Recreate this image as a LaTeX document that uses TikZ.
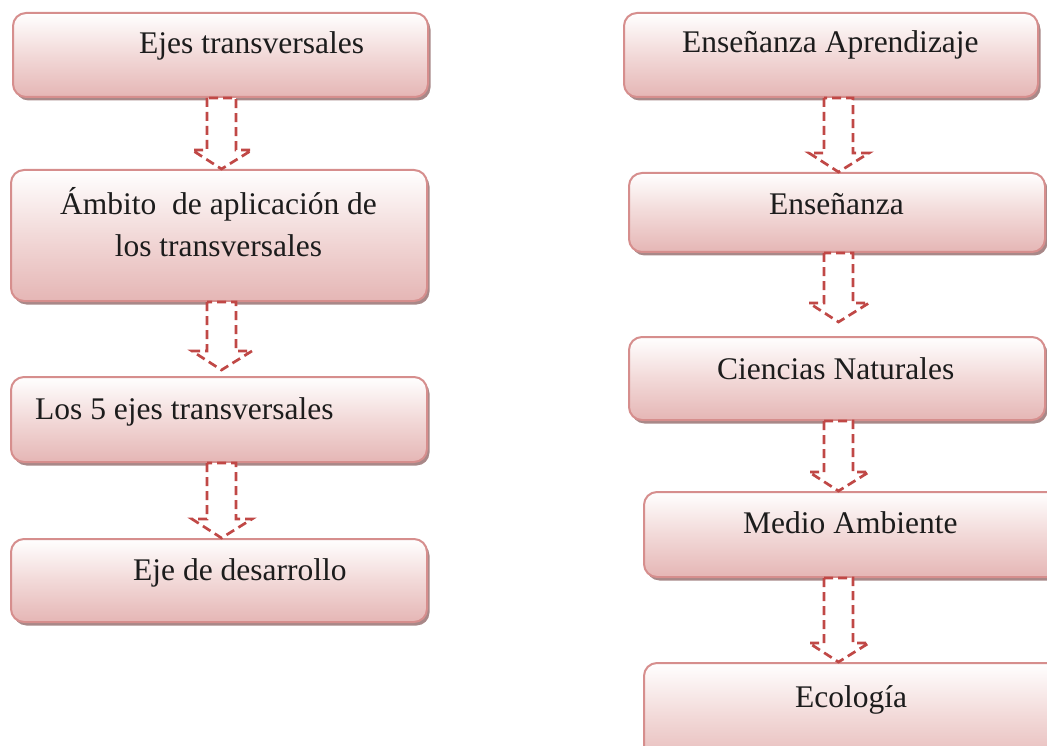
\documentclass[tikz,border=0pt]{standalone}
\usepackage{fontspec}
\setmainfont{Liberation Serif}
\usetikzlibrary{shadows,calc}
\definecolor{bordc}{RGB}{214,142,141}
\definecolor{fillb}{RGB}{229,182,181}
\definecolor{fillm}{RGB}{242,217,216}
\definecolor{shadc}{RGB}{168,136,136}
\definecolor{arrc}{RGB}{192,72,70}
\definecolor{txtc}{RGB}{28,28,28}
\newcommand\blockarrow[4]{%
  \fill[white] let \p1=(#1.south) in (#3pt-14.5pt,\y1) rectangle (#3pt+14.5pt,\y1-5pt);
  \draw[blk] let \p1=(#1.south), \p2=(#2.north) in
  (#3pt-14.5pt,\y1) -- (#3pt-14.5pt,\y2+#4pt+19pt) -- (#3pt-29.5pt,\y2+#4pt+19pt)
  -- (#3pt,\y2+#4pt) -- (#3pt+30.5pt,\y2+#4pt+19pt) -- (#3pt+14.5pt,\y2+#4pt+19pt)
  -- (#3pt+14.5pt,\y1) -- cycle;}
\begin{document}
\begin{tikzpicture}[x=1pt,y=-1pt,
  box/.style={rectangle, rounded corners=13pt, draw=bordc, line width=2pt,
    top color=white, bottom color=fillb, middle color=fillm,
    drop shadow={shadow xshift=2.5pt, shadow yshift=-3.5pt, fill=shadc, opacity=1},
    inner sep=0pt},
  txt/.style={font=\fontsize{31.5}{38}\selectfont, text=txtc, inner sep=0pt, anchor=base west},
  blk/.style={draw=arrc, line width=2.7pt, dash pattern=on 9pt off 5pt}]
\useasboundingbox (0,0) rectangle (1047,746);
% left column
\node[box, minimum width=415pt, minimum height=84pt] (L1) at (220.5,55) {};
\node[box, minimum width=416pt, minimum height=131pt] (L2) at (219,235.5) {};
\node[box, minimum width=416pt, minimum height=85pt] (L3) at (219,419.5) {};
\node[box, minimum width=416pt, minimum height=83pt] (L4) at (219,580.5) {};
% right column
\node[box, minimum width=414pt, minimum height=84pt] (R1) at (831,55) {};
\node[box, minimum width=416pt, minimum height=79pt] (R2) at (837,212.5) {};
\node[box, minimum width=416pt, minimum height=83pt] (R3) at (837,378.5) {};
\node[box, minimum width=416pt, minimum height=85pt] (R4) at (852,534.5) {};
\node[box, minimum width=416pt, minimum height=107pt] (R5) at (852,716.5) {};
% arrows
\blockarrow{L1}{L2}{221.5}{0}
\blockarrow{L2}{L3}{221.5}{6}
\blockarrow{L3}{L4}{221.5}{0}
\blockarrow{R1}{R2}{838.5}{0}
\blockarrow{R2}{R3}{838.5}{14}
\blockarrow{R3}{R4}{838.5}{0}
\blockarrow{R4}{R5}{838.5}{0}
% texts
\node[txt] (tL1) at (139,54) {Ejes transversales};
\node[txt, anchor=base] (tL2a) at (218.5,215) {Ámbito~~de aplicación de};
\node[txt, anchor=base] (tL2b) at (218.5,257) {los transversales};
\node[txt] (tL3) at (35,419) {Los 5 ejes transversales};
\node[txt] (tL4) at (133,580) {Eje de desarrollo};
\node[txt] (tR1) at (682,53) {Enseñanza Aprendizaje};
\node[txt] (tR2) at (769,215) {Enseñanza};
\node[txt] (tR3) at (717,379) {Ciencias Naturales};
\node[txt] (tR4) at (743,533) {Medio Ambiente};
\node[txt] (tR5) at (795,707) {Ecología};
\end{tikzpicture}
\end{document}
